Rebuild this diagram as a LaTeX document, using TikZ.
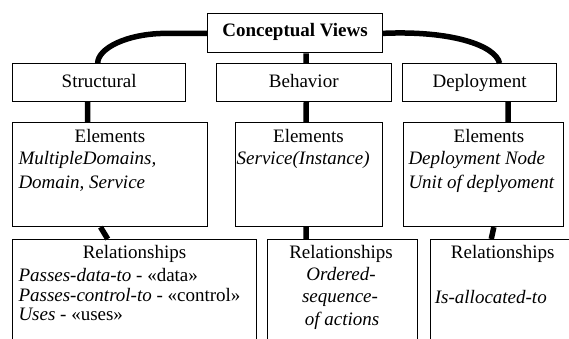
\documentclass[tikz,border=0pt]{standalone}
\usepackage{fontspec}
\setmainfont{Liberation Serif}
\begin{document}
\begin{tikzpicture}[x=1pt,y=-1pt,
  txt/.style={font=\fontsize{19}{23}\selectfont,inner sep=0pt},
  box/.style={draw=black,line width=1.1pt,fill=white,inner sep=0pt,anchor=north west,
    font=\fontsize{19}{23}\selectfont,text height=13pt,text depth=4pt},
  conn/.style={line width=5.5pt,black}]
\useasboundingbox (0,0) rectangle (569,338);
\clip (0,0) rectangle (569,338);

% top level
\node[box,minimum width=175,minimum height=39,text height=12pt,text depth=5pt,font=\fontsize{19}{23}\selectfont\bfseries]
  (cv) at (207,13.3) {Conceptual Views};

% views
\node[box,minimum width=172.7,minimum height=37.7] (st) at (12.3,63.3) {Structural};
\node[box,minimum width=175,minimum height=37.7] (bh) at (215.7,63.3) {Behavior};
\node[box,minimum width=153.4,minimum height=37.7] (dp) at (402.3,63.3) {Deployment};

% element boxes
\node[box,minimum width=194.4,minimum height=103.7] (se) at (12.3,122.3) {};
\node[box,minimum width=146.7,minimum height=103.7] (be) at (235,122.3) {};
\node[box,minimum width=160,minimum height=103.7] (de) at (403.3,122.3) {};

% relationship boxes (run past the lower and right edges)
\node[box,minimum width=243.7,minimum height=120] (sr) at (12.3,239) {};
\node[box,minimum width=150,minimum height=120] (br) at (267.3,239) {};
\node[box,minimum width=146,minimum height=120] (dr) at (429.7,239) {};

% connectors
\draw[conn] (cv.west) -- ++(-40,0) .. controls +(-40,0) and +(0,-15) .. ([xshift=-1.5]st.north);
\draw[conn] (cv.east) .. controls +(68,-3) and +(-4,-18) .. ([xshift=20]dp.north);
\draw[conn] ([xshift=11]cv.south) -- ([xshift=2.5]bh.north);
\draw[conn] ([xshift=2.5]bh.south) -- ([xshift=-2.8]be.north);
\draw[conn] ([xshift=-2.8]be.south) -- ([xshift=-36.8]br.north);
\draw[conn] ([xshift=-11.5]st.south) -- ([xshift=-22.5]se.north);
\draw[conn] ([xshift=-9.5]se.south) -- ([xshift=-27]sr.north);
\draw[conn] ([xshift=28.5]dp.south) -- ([xshift=24.3]de.north);
\draw[conn] ([xshift=10]de.south) -- ([xshift=-12]dr.north);

% element texts
\node[txt,anchor=base] (se-t) at (110,142) {Elements};
\node[txt,anchor=base west] (se-1) at (18.3,164.5) {\itshape MultipleDomains,};
\node[txt,anchor=base west] (se-2) at (18.3,188) {\itshape Domain, Service};

\node[txt,anchor=base] (be-t) at (308.5,142) {Elements};
\node[txt,anchor=base west] (be-1) at (236.5,164.5) {\itshape Service(Instance)};

\node[txt,anchor=base] (de-t) at (489,142) {Elements};
\node[txt,anchor=base west] (de-1) at (408.3,164.5) {\itshape Deployment Node};
\node[txt,anchor=base west] (de-2) at (408.3,188) {\itshape Unit of deplyoment};

% relationship texts
\node[txt,anchor=base] (sr-t) at (134.5,258.7) {Relationships};
\node[txt,anchor=base west] (sr-1) at (18.3,281.7) {\textit{Passes-data-to} - «data»};
\node[txt,anchor=base west] (sr-2) at (18.3,301.7) {\textit{Passes-control-to} - «control»};
\node[txt,anchor=base west] (sr-3) at (18.3,320.7) {\textit{Uses} - «uses»};

\node[txt,anchor=base] (br-t) at (341,258.7) {Relationships};
\node[txt,anchor=base] (br-1) at (341,280.7) {\itshape Ordered-};
\node[txt,anchor=base] (br-2) at (340,302) {\itshape sequence-};
\node[txt,anchor=base] (br-3) at (342,325) {\itshape of actions};

\node[txt,anchor=base] (dr-t) at (502.7,258.7) {Relationships};
\node[txt,anchor=base west] (dr-1) at (434.7,303.5) {\itshape Is-allocated-to};
\end{tikzpicture}
\end{document}
